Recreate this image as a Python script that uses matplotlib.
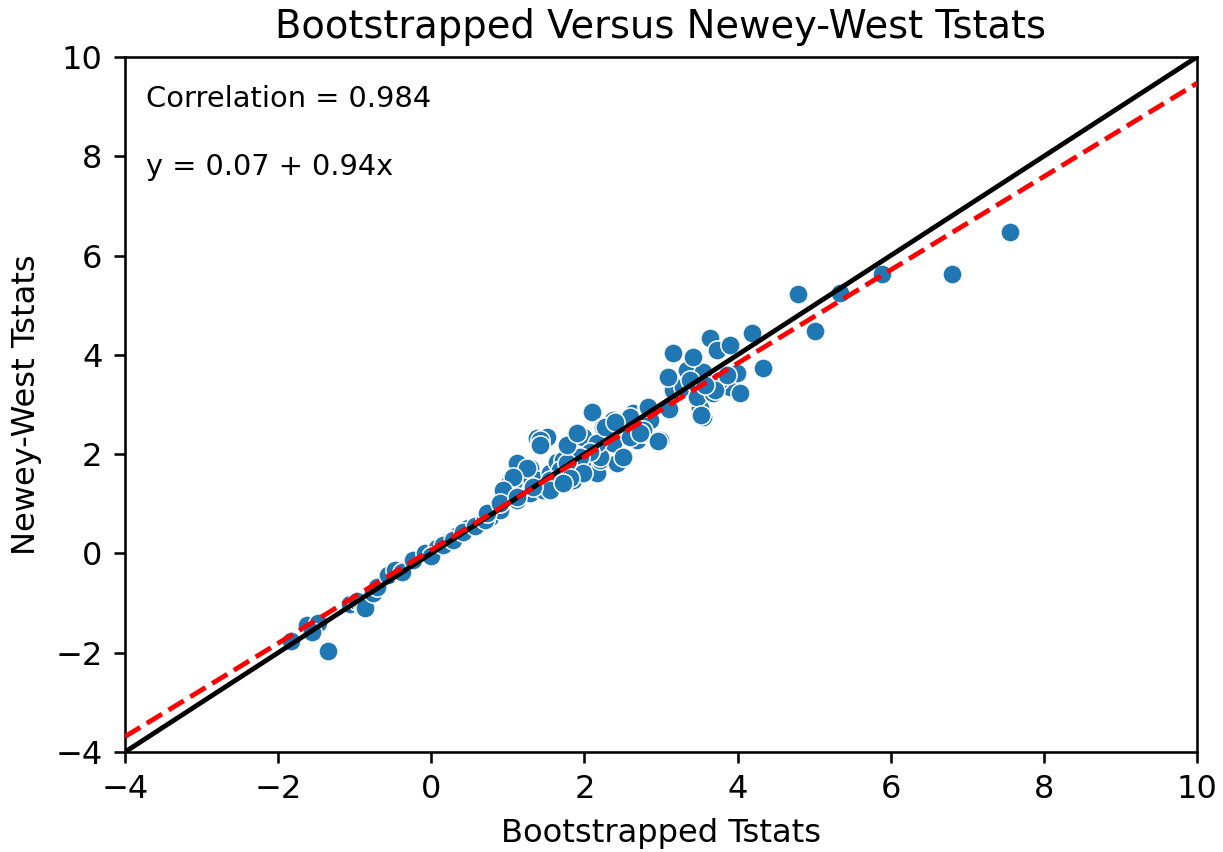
import numpy as np
import matplotlib
matplotlib.use("Agg")
import matplotlib.pyplot as plt

# Bootstrapped t-statistics (x) and Newey-West t-statistics (y)
boot_tstats = [
    -1.83, -1.35, -1.62, -1.48, -1.56, -1.06, -0.97, -0.89, -0.87, -0.76,
    -0.71, -0.57, -0.47, -0.38, -0.24, -0.08, 0.07, 0.22, 0.35, 0.48,
    0.64, 0.77, 0.86, 0.94, 0.99, 1.00, 0.00, 0.15, 0.28, 0.41,
    0.57, 0.70,
    1.38, 1.49, 1.13, 1.29, 1.38, 1.20, 1.07, 1.12, 1.42, 1.29,
    0.90, 0.73, 1.55, 1.71, 1.81, 1.90, 1.85, 2.03, 2.16, 2.20,
    2.24, 2.37, 2.43, 2.11, 2.37, 2.60, 2.69, 2.77, 2.63, 2.82,
    2.99, 3.12, 2.86, 2.50, 1.94, 1.77, 1.64,
    1.72, 1.68, 1.55, 1.46, 1.51, 1.42, 2.10, 2.24, 2.20, 2.11,
    2.77, 2.60, 3.51, 3.55, 3.16, 3.29, 3.47, 3.68, 3.90, 4.03,
    3.09, 3.34, 3.55, 3.80, 3.99, 3.16, 3.42, 3.64, 3.73, 3.90,
    4.19, 4.33, 3.77, 3.71, 2.83, 3.38, 3.86, 3.57,
    1.98, 2.16, 2.60, 2.73, 2.27, 2.07, 1.94, 1.77, 1.98, 1.64,
    1.55, 2.40,
    1.42, 1.77, 1.90, 1.12, 1.25, 1.07, 0.94, 1.33, 1.81, 1.72,
    0.90, 1.12,
    4.79, 5.34, 5.89, 5.01, 6.80, 7.56, 2.96, 3.52, 3.10,
]
nw_tstats = [
    -1.77, -1.97, -1.44, -1.40, -1.58, -1.02, -0.96, -1.06, -1.10, -0.80,
    -0.68, -0.43, -0.33, -0.37, -0.13, 0.01, 0.11, 0.23, 0.37, 0.51,
    0.61, 0.73, 0.91, 1.08, 1.22, 1.38, -0.05, 0.17, 0.27, 0.43,
    0.55, 0.67,
    2.32, 2.34, 1.74, 1.72, 1.48, 1.48, 1.42, 1.08, 1.28, 1.22,
    0.87, 0.81, 1.62, 1.68, 2.08, 2.14, 1.48, 1.74, 1.62, 1.88,
    2.22, 2.22, 1.82, 2.83, 2.69, 2.55, 2.28, 2.43, 2.83, 2.95,
    2.28, 2.89, 2.69, 1.94, 2.34, 1.98, 1.84,
    1.88, 1.68, 1.48, 1.28, 2.34, 2.28, 2.85, 2.55, 1.94, 2.22,
    2.49, 2.75, 2.93, 2.75, 3.29, 3.35, 3.15, 3.23, 3.35, 3.23,
    3.55, 3.69, 3.65, 3.55, 3.63, 4.04, 3.96, 4.34, 4.10, 4.20,
    4.44, 3.73, 3.49, 3.29, 2.95, 3.49, 3.59, 3.39,
    2.34, 2.22, 2.34, 2.43, 2.55, 2.04, 1.94, 1.82, 1.62, 1.48,
    1.28, 2.65,
    2.18, 2.18, 2.43, 1.82, 1.72, 1.54, 1.28, 1.34, 1.52, 1.42,
    1.02, 1.14,
    5.23, 5.25, 5.63, 4.48, 5.63, 6.47, 2.26, 2.79, 2.91,
]

correlation = 0.984
intercept = 0.07
slope = 0.94
axis_ticks = [-4, -2, 0, 2, 4, 6, 8, 10]

DPI = 231
fig = plt.figure(figsize=(1223 / DPI, 852 / DPI), dpi=DPI)
ax = fig.add_axes([0.1022, 0.1174, 0.8765, 0.8157])

ax.scatter(boot_tstats, nw_tstats, s=36, color="#1f77b4",
           edgecolors="white", linewidths=0.48, zorder=2)

xs = np.array([axis_ticks[0], axis_ticks[-1]], dtype=float)
ax.plot(xs, xs, color="black", lw=1.5, zorder=3)
ax.plot(xs, intercept + slope * xs, color="red", lw=1.5, ls="--", zorder=4)

ax.set_xlim(axis_ticks[0], axis_ticks[-1])
ax.set_ylim(axis_ticks[0], axis_ticks[-1])
ax.set_xticks(axis_ticks)
ax.set_yticks(axis_ticks)

ax.text(0.02, 0.94, f"Correlation = {correlation}", transform=ax.transAxes,
        fontsize=9, va="center", ha="left")
ax.text(0.02, 0.842, f"y = {intercept} + {slope}x", transform=ax.transAxes,
        fontsize=9, va="center", ha="left")

ax.set_title("Bootstrapped Versus Newey-West Tstats", fontsize=12)
ax.set_xlabel("Bootstrapped Tstats")
ax.set_ylabel("Newey-West Tstats")

fig.savefig("out.png", dpi=DPI)
